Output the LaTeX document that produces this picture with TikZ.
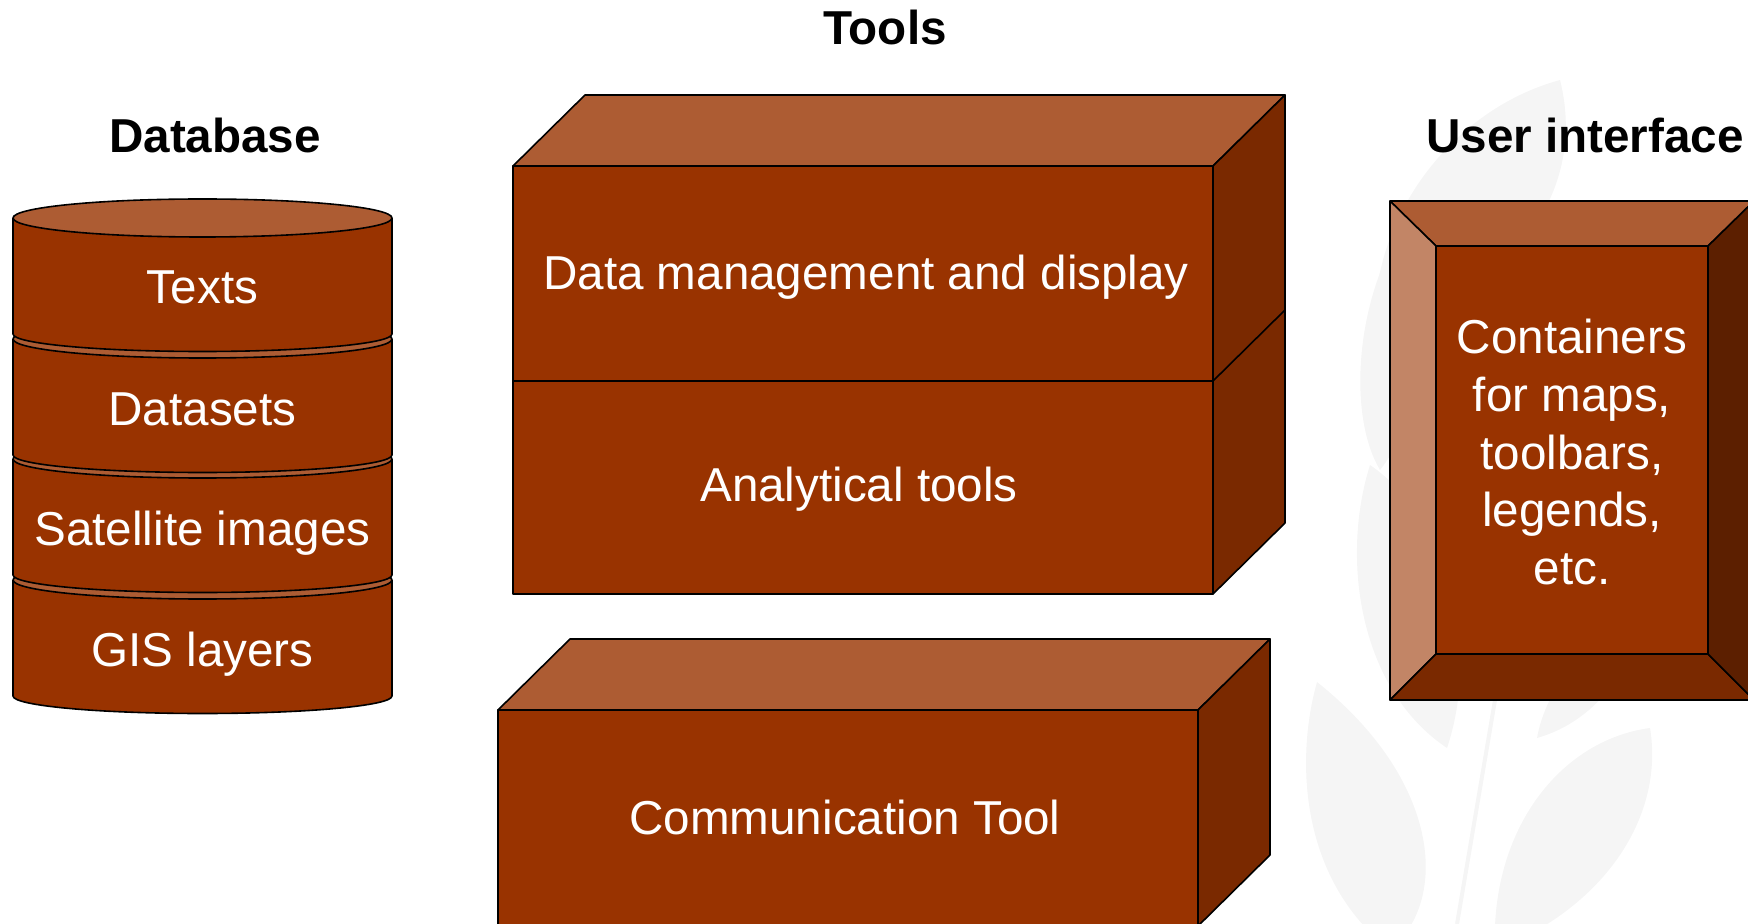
\documentclass[tikz,border=0pt]{standalone}
\usepackage{fontspec}
\setmainfont{Liberation Sans}
\definecolor{brickfront}{HTML}{993300}
\definecolor{bricktop}{HTML}{AD5C33}
\definecolor{brickside}{HTML}{7A2900}
\definecolor{bricklight}{HTML}{C28566}
\definecolor{brickdark}{HTML}{5C1F00}
\tikzset{
	face/.style={draw=black, line width=0.8pt, line join=round},
	boxtext/.style={text=white, inner sep=0pt, font=\fontsize{23.8}{28.8}\selectfont},
	heading/.style={inner sep=0pt, font=\fontsize{23.8}{28.8}\selectfont\bfseries},
	leaf/.style={fill=black!4},
}

\begin{document}
\begin{tikzpicture}[x=0.5pt, y=-0.5pt]
	\clip (0,0) rectangle (1748,924);
	% faint plant in the background
	\fill[leaf] (1560,80) .. controls (1450,110) and (1370,220) .. (1375,330) .. controls (1500,300) and (1590,200) .. (1560,80);
	\fill[leaf] (1390,250) .. controls (1355,320) and (1350,420) .. (1380,470) .. controls (1420,420) and (1430,320) .. (1390,250);
	\fill[leaf] (1370,465) .. controls (1340,560) and (1360,690) .. (1447,748) .. controls (1480,650) and (1450,520) .. (1370,465);
	\fill[leaf] (1640,600) .. controls (1590,630) and (1545,690) .. (1537,738) .. controls (1600,720) and (1640,660) .. (1640,600);
	\fill[leaf] (1317,682) .. controls (1295,760) and (1300,880) .. (1390,950) .. controls (1450,900) and (1440,780) .. (1317,682);
	\fill[leaf] (1650,728) .. controls (1560,740) and (1490,830) .. (1495,950) .. controls (1600,910) and (1665,820) .. (1650,728);
	\draw[black!4, line width=2pt] (1495,700) -- (1457,924);

	% titles
	\node[heading, anchor=base] (tools) at (885,45) {Tools};
	\node[heading, anchor=base] (database) at (215,153) {Database};
	\node[heading, anchor=base] (userif) at (1585,153) {User interface};

	% database cylinder, bottom layer first
	\filldraw[face, fill=brickfront] (13,580) -- (13,696) arc[start angle=180, end angle=0, x radius=189.5, y radius=17.5] -- (392,580);
	\filldraw[face, fill=bricktop] (202.5,580) ellipse[x radius=189.5, y radius=19];
	\filldraw[face, fill=brickfront] (13,459) -- (13,575) arc[start angle=180, end angle=0, x radius=189.5, y radius=17.5] -- (392,459);
	\filldraw[face, fill=bricktop] (202.5,459) ellipse[x radius=189.5, y radius=19];
	\filldraw[face, fill=brickfront] (13,339) -- (13,455) arc[start angle=180, end angle=0, x radius=189.5, y radius=17.5] -- (392,339);
	\filldraw[face, fill=bricktop] (202.5,339) ellipse[x radius=189.5, y radius=19];
	\filldraw[face, fill=brickfront] (13,218) -- (13,334) arc[start angle=180, end angle=0, x radius=189.5, y radius=17.5] -- (392,218);
	\filldraw[face, fill=bricktop] (202.5,218) ellipse[x radius=189.5, y radius=19];
	\node[boxtext, anchor=base] (texts) at (202.5,304) {Texts};
	\node[boxtext, anchor=base] (datasets) at (202.5,425) {Datasets};
	\node[boxtext, anchor=base] (satellite) at (202.5,545) {Satellite images};
	\node[boxtext, anchor=base] (gis) at (202.5,666) {GIS layers};

	% tools: upper block
	\filldraw[face, fill=bricktop] (513,166) -- (585,95) -- (1285,95) -- (1213,166) -- cycle;
	\filldraw[face, fill=brickside] (1213,166) -- (1285,95) -- (1285,523) -- (1213,594) -- cycle;
	\draw[face] (1213,381) -- (1285,310);
	\filldraw[face, fill=brickfront] (513,166) rectangle (1213,381);
	\filldraw[face, fill=brickfront] (513,381) rectangle (1213,594);
	\node[boxtext, anchor=base] (datamgmt) at (866,290) {Data management and display};
	\node[boxtext, anchor=base] (analytic) at (859,501) {Analytical tools};

	% tools: lower block
	\filldraw[face, fill=bricktop] (498,710) -- (570,639) -- (1270,639) -- (1198,710) -- cycle;
	\filldraw[face, fill=brickside] (1198,710) -- (1270,639) -- (1270,855) -- (1198,926) -- cycle;
	\filldraw[face, fill=brickfront] (498,710) rectangle (1198,926);
	\node[boxtext, anchor=base] (comm) at (845,834) {Communication Tool};

	% user interface frame
	\filldraw[face, fill=bricktop] (1390,201) -- (1754,201) -- (1708,246) -- (1436,246) -- cycle;
	\filldraw[face, fill=bricklight] (1390,201) -- (1436,246) -- (1436,654) -- (1390,700) -- cycle;
	\filldraw[face, fill=brickside] (1390,700) -- (1436,654) -- (1708,654) -- (1754,700) -- cycle;
	\filldraw[face, fill=brickdark] (1754,201) -- (1708,246) -- (1708,654) -- (1754,700) -- cycle;
	\filldraw[face, fill=brickfront] (1436,246) rectangle (1708,654);
	\node[boxtext, align=center] (containers) at (1572,452) {Containers\\for maps,\\toolbars,\\legends,\\etc.};
\end{tikzpicture}
\end{document}
